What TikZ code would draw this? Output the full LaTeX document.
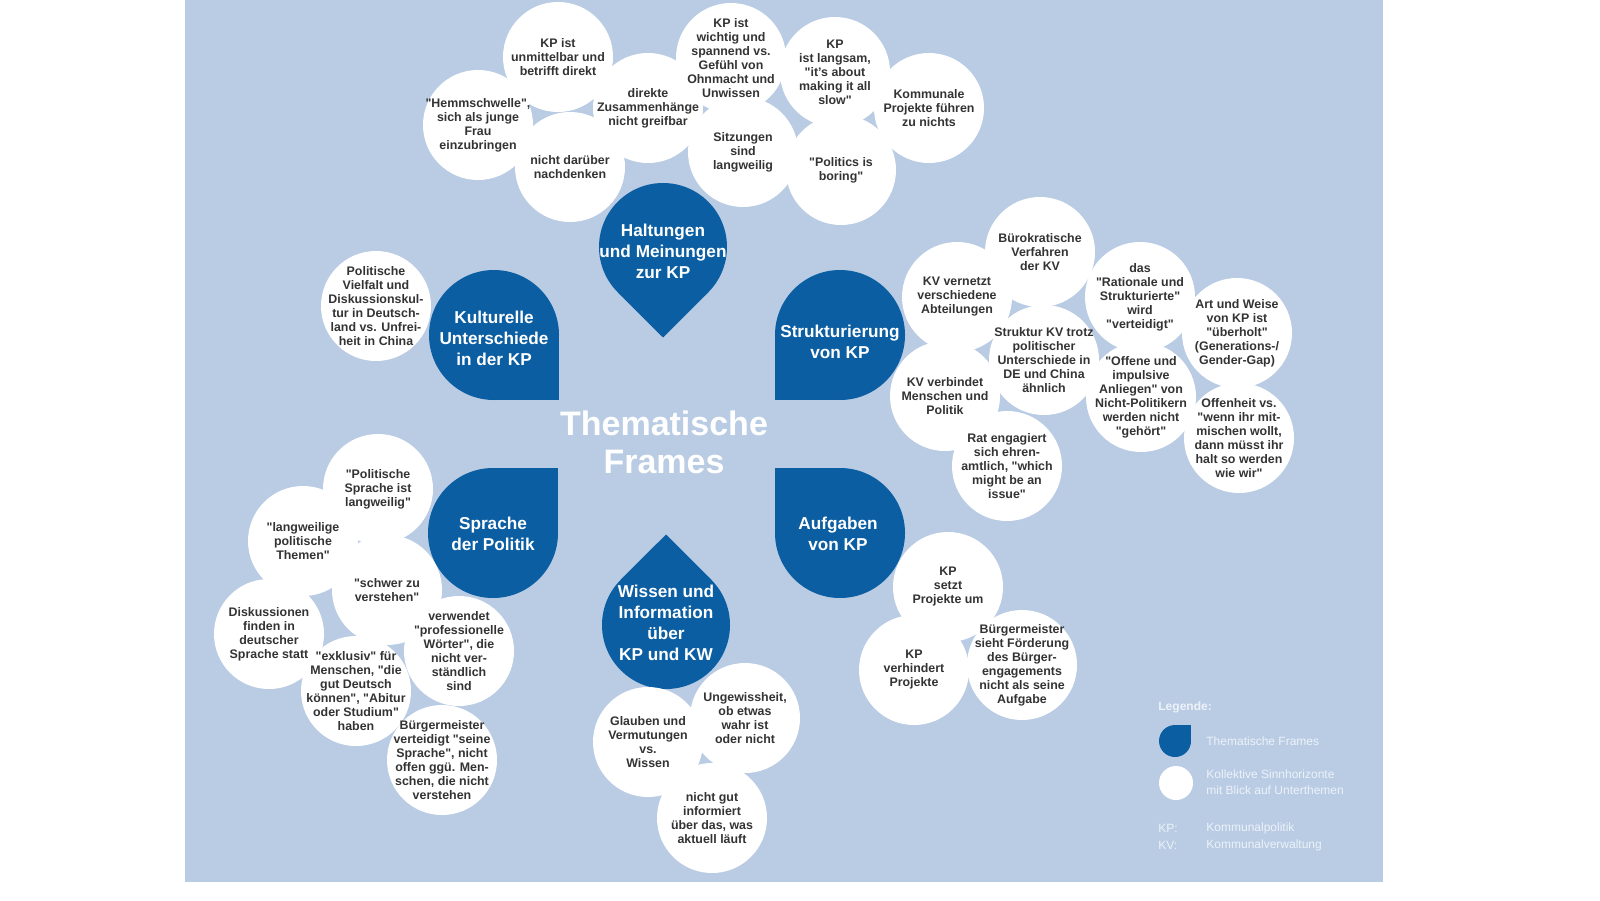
\documentclass[tikz,border=0pt]{standalone}
\usepackage{fontspec}
\setmainfont{Liberation Sans}
\newcommand\qq{\textquotedbl}
\begin{document}
\begin{tikzpicture}[x=0.5pt,y=-0.5pt]
  \definecolor{bgblue}{HTML}{B9CCE4}
  \definecolor{framblue}{HTML}{0B5EA2}
  \definecolor{sinntext}{HTML}{333333}
  \definecolor{legtext}{HTML}{EDF2F9}
  \tikzset{
    framefill/.style={fill=framblue, nonzero rule},
    frametext/.style={text=white, font=\fontsize{8.6}{10.5}\selectfont\bfseries, align=center},
    sinn/.style={text=sinntext, font=\fontsize{6.2}{7}\selectfont\bfseries, align=center, inner sep=0pt},
    legend/.style={text=legtext, font=\fontsize{6}{8}\selectfont, align=left, anchor=west, inner sep=0pt},
  }
  \useasboundingbox (0,0) rectangle (1600,900);
  \fill[bgblue] (185,0) rectangle (1383,882);

  % frames
  \fill[framefill] (494,335) circle (32.5pt); \fill[framefill] (494,335) rectangle ++(65,65);
  \fill[framefill] (840,335) circle (32.5pt); \fill[framefill] (840,335) rectangle ++(-65,65);
  \fill[framefill] (493,533) circle (32.5pt); \fill[framefill] (493,533) rectangle ++(65,-65);
  \fill[framefill] (840,533) circle (32.5pt); \fill[framefill] (840,533) rectangle ++(-65,-65);
  \fill[framefill] (663,247) circle (32pt); \fill[framefill] (663,247) -- +(-45.3,45.3) -- +(0,90.5) -- +(45.3,45.3) -- cycle;
  \fill[framefill] (666,625) circle (32pt); \fill[framefill] (666,625) -- +(-45.3,-45.3) -- +(0,-90.5) -- +(45.3,-45.3) -- cycle;

  % sinnhorizonte
  \coordinate (h1) at (558,57);   \coordinate (h2) at (478,125);
  \coordinate (h3) at (648,108);  \coordinate (h4) at (570,167);
  \coordinate (h5) at (731,58);   \coordinate (h6) at (743,152);
  \coordinate (h7) at (835,72);   \coordinate (h8) at (929,108);
  \coordinate (h9) at (841,170);
  \coordinate (k1) at (376,306);
  \coordinate (s1) at (1040,252); \coordinate (s2) at (957,297);
  \coordinate (s3) at (1140,297); \coordinate (s4) at (1237,333);
  \coordinate (s5) at (1044,360); \coordinate (s6) at (945,396);
  \coordinate (s7) at (1141,397); \coordinate (s8) at (1239,438);
  \coordinate (s9) at (1007,466);
  \coordinate (a1) at (948,587);  \coordinate (a2) at (914,670);
  \coordinate (a3) at (1022,665);
  \coordinate (w1) at (745,718);  \coordinate (w2) at (648,742);
  \coordinate (w3) at (712,818);
  \coordinate (p1) at (378,489);  \coordinate (p2) at (303,541);
  \coordinate (p3) at (387,590);  \coordinate (p4) at (269,634);
  \coordinate (p5) at (459,651);  \coordinate (p6) at (356,691);
  \coordinate (p7) at (442,760);
  \foreach \n in {h1,h2,h3,h4,h5,h6,h7,h8,h9,k1,s1,s2,s3,s4,s5,s6,s7,s8,s9,a1,a2,a3,w1,w2,w3,p1,p2,p3,p4,p5,p6,p7}
    \fill[white] (\n) circle (27.5pt);

  \node[sinn] (t-h1) at (h1) {KP ist\\unmittelbar und\\betrifft direkt};
  \node[sinn] (t-h2) at (h2) {\qq Hemmschwelle\qq,\\sich als junge\\Frau\\einzubringen};
  \node[sinn] (t-h3) at (h3) {direkte\\Zusammenhänge\\nicht greifbar};
  \node[sinn] (t-h4) at (h4) {nicht darüber\\nachdenken};
  \node[sinn] (t-h5) at (h5) {KP ist\\wichtig und\\spannend vs.\\Gefühl von\\Ohnmacht und\\Unwissen};
  \node[sinn] (t-h6) at (h6) {Sitzungen\\sind\\langweilig};
  \node[sinn] (t-h7) at (h7) {KP\\ist langsam,\\\qq it's about\\making it all\\slow\qq};
  \node[sinn] (t-h8) at (h8) {Kommunale\\Projekte führen\\zu nichts};
  \node[sinn] (t-h9) at (h9) {\qq Politics is\\boring\qq};
  \node[sinn] (t-k1) at (k1) {Politische\\Vielfalt und\\Diskussionskul-\\tur in Deutsch-\\land vs. Unfrei-\\heit in China};
  \node[sinn] (t-s1) at (s1) {Bürokratische\\Verfahren\\der KV};
  \node[sinn] (t-s2) at (s2) {KV vernetzt\\verschiedene\\Abteilungen};
  \node[sinn] (t-s3) at (s3) {das\\\qq Rationale und\\Strukturierte\qq\\wird\\\qq verteidigt\qq};
  \node[sinn] (t-s4) at (s4) {Art und Weise\\von KP ist\\\qq überholt\qq\\(Generations-/\\Gender-Gap)};
  \node[sinn] (t-s5) at (s5) {Struktur KV trotz\\politischer\\Unterschiede in\\DE und China\\ähnlich};
  \node[sinn] (t-s6) at (s6) {KV verbindet\\Menschen und\\Politik};
  \node[sinn] (t-s7) at (s7) {\qq Offene und\\impulsive\\Anliegen\qq{} von\\Nicht-Politikern\\werden nicht\\\qq gehört\qq};
  \node[sinn] (t-s8) at (s8) {Offenheit vs.\\\qq wenn ihr mit-\\mischen wollt,\\dann müsst ihr\\halt so werden\\wie wir\qq};
  \node[sinn] (t-s9) at (s9) {Rat engagiert\\sich ehren-\\amtlich, \qq which\\might be an\\issue\qq};
  \node[sinn] (t-a1) at (a1) {KP\\setzt\\Projekte um};
  \node[sinn] (t-a2) at (a2) {KP\\verhindert\\Projekte};
  \node[sinn] (t-a3) at (a3) {Bürgermeister\\sieht Förderung\\des Bürger-\\engagements\\nicht als seine\\Aufgabe};
  \node[sinn] (t-w1) at (w1) {Ungewissheit,\\ob etwas\\wahr ist\\oder nicht};
  \node[sinn] (t-w2) at (w2) {Glauben und\\Vermutungen\\vs.\\Wissen};
  \node[sinn] (t-w3) at (w3) {nicht gut\\informiert\\über das, was\\aktuell läuft};
  \node[sinn] (t-p1) at (p1) {\qq Politische\\Sprache ist\\langweilig\qq};
  \node[sinn] (t-p2) at (p2) {\qq langweilige\\politische\\Themen\qq};
  \node[sinn] (t-p3) at (p3) {\qq schwer zu\\verstehen\qq};
  \node[sinn] (t-p4) at (p4) {Diskussionen\\finden in\\deutscher\\Sprache statt};
  \node[sinn] (t-p5) at (p5) {verwendet\\\qq professionelle\\Wörter\qq, die\\nicht ver-\\ständlich\\sind};
  \node[sinn] (t-p6) at (p6) {\qq exklusiv\qq{} für\\Menschen, \qq die\\gut Deutsch\\können\qq, \qq Abitur\\oder Studium\qq\\haben};
  \node[sinn] (t-p7) at (p7) {Bürgermeister\\verteidigt \qq seine\\Sprache\qq, nicht\\offen ggü. Men-\\schen, die nicht\\verstehen};

  % frame labels
  \node[frametext] (haltungen) at (663,251) {Haltungen\\und Meinungen\\zur KP};
  \node[frametext] (kultur) at (494,338) {Kulturelle\\Unterschiede\\in der KP};
  \node[frametext] (struktur) at (840,342) {Strukturierung\\von KP};
  \node[frametext] (sprache) at (493,534) {Sprache\\der Politik};
  \node[frametext] (aufgaben) at (838,534) {Aufgaben\\von KP};
  \node[frametext] (wissen) at (666,623) {Wissen und\\Information\\über\\KP und KW};
  \node[text=white, font=\fontsize{17}{19}\selectfont\bfseries, align=center] (title) at (664,442) {Thematische\\Frames};

  % legend
  \node[legend, font=\fontsize{6}{8}\selectfont\bfseries] (leg) at (1158,707) {Legende:};
  \fill[framefill] (1175,741) circle (8pt); \fill[framefill] (1175,741) rectangle ++(16,-16);
  \fill[white] (1176,783) circle (8.5pt);
  \node[legend] (leg-f) at (1206,741) {Thematische Frames};
  \node[legend] (leg-s) at (1206,782) {Kollektive Sinnhorizonte\\mit Blick auf Unterthemen};
  \node[legend] (leg-kp) at (1158,828) {KP:};
  \node[legend] (leg-kp2) at (1206,828) {Kommunalpolitik};
  \node[legend] (leg-kv) at (1158,845) {KV:};
  \node[legend] (leg-kv2) at (1206,845) {Kommunalverwaltung};
\end{tikzpicture}
\end{document}
